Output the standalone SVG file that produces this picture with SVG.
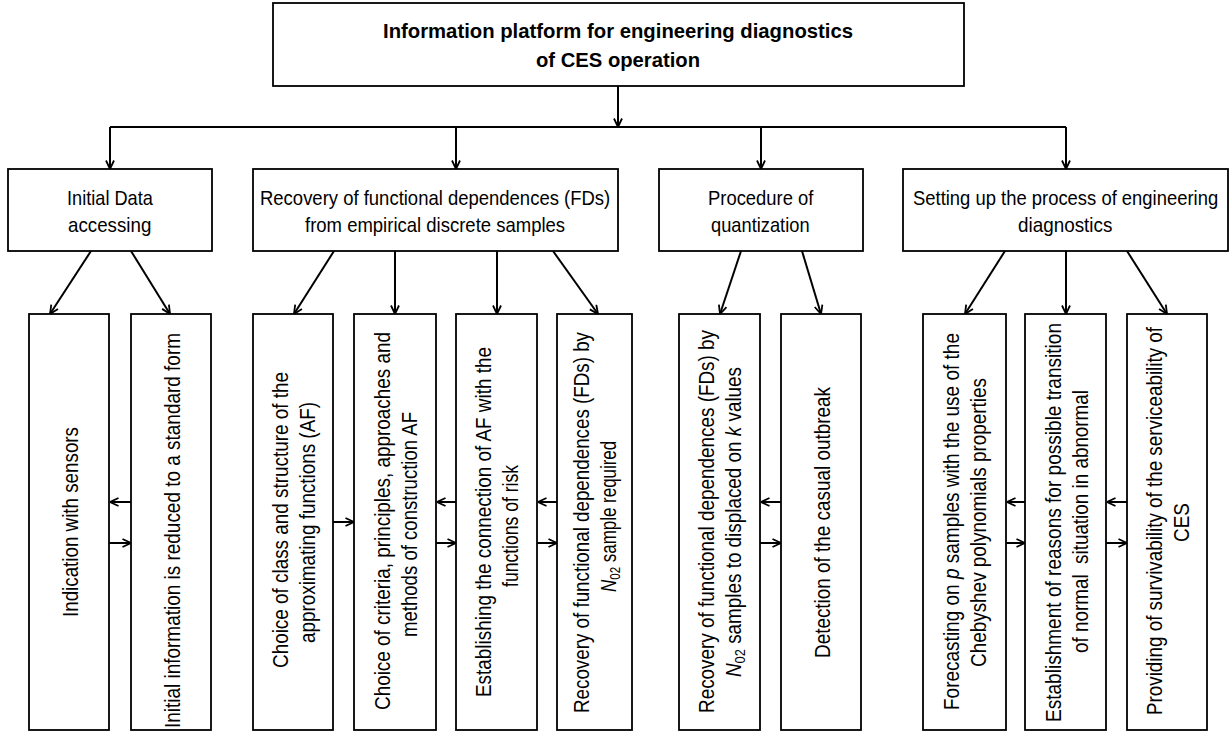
<svg xmlns="http://www.w3.org/2000/svg" width="1230" height="734" viewBox="0 0 1230 734">
<defs>
<style>
.box{fill:#fff;stroke:#000;stroke-width:1.8}
.t{font-family:"Liberation Sans",Arial,sans-serif;font-size:21px;fill:#000}
.v{font-family:"Liberation Sans",Arial,sans-serif;font-size:22px;fill:#000}
.b{font-weight:bold}
.i{font-style:italic}
.sub{font-size:15px}
.c{fill:none;stroke:#000;stroke-width:2;marker-end:url(#ah)}
.n{fill:none;stroke:#000;stroke-width:2}
</style>
<marker id="ah" viewBox="0 0 10 10" refX="9.5" refY="5" markerWidth="10" markerHeight="10" markerUnits="userSpaceOnUse" orient="auto">
<path d="M1,1 L9.5,5 L1,9" fill="none" stroke="#000" stroke-width="1.8"/>
</marker>
</defs>
<rect width="1230" height="734" fill="#fff"/>

<g id="connectors">
<path class="c" d="M618,86 V127"/>
<path class="n" d="M110,127 H1066"/>
<path class="c" d="M110,127 V169"/>
<path class="c" d="M456,127 V169"/>
<path class="c" d="M761,127 V169"/>
<path class="c" d="M1066,127 V169"/>
<path class="c" d="M91,251 L50,314"/>
<path class="c" d="M131,251 L170,314"/>
<path class="c" d="M334,251 L294,314"/>
<path class="c" d="M395,251 V314"/>
<path class="c" d="M497,251 V314"/>
<path class="c" d="M553,251 L598,314"/>
<path class="c" d="M741,251 L720,314"/>
<path class="c" d="M802,251 L821,314"/>
<path class="c" d="M1005,251 L965,314"/>
<path class="c" d="M1066,251 V314"/>
<path class="c" d="M1127,251 L1167,314"/>
<path class="c" d="M131,502 H110"/>
<path class="c" d="M109,543 H131"/>
<path class="c" d="M333,522 H354"/>
<path class="c" d="M456,502 H437"/>
<path class="c" d="M436,543 H456"/>
<path class="c" d="M557,502 H538"/>
<path class="c" d="M537,543 H557"/>
<path class="c" d="M781,502 H761"/>
<path class="c" d="M760,543 H781"/>
<path class="c" d="M1025,502 H1007"/>
<path class="c" d="M1006,543 H1025"/>
<path class="c" d="M1127,502 H1107"/>
<path class="c" d="M1106,543 H1127"/>
</g>

<g id="root">
<rect class="box" x="273" y="3" width="691" height="83"/>
<text class="t b" transform="translate(383,38) scale(0.85,1)" textLength="553" lengthAdjust="spacingAndGlyphs">Information platform for engineering diagnostics</text>
<text class="t b" transform="translate(536,67) scale(0.85,1)" textLength="193" lengthAdjust="spacingAndGlyphs">of CES operation</text>
</g>

<g id="initial-data">
<rect class="box" x="8" y="169" width="204" height="82"/>
<text class="t" transform="translate(67,205) scale(0.85,1)" textLength="101" lengthAdjust="spacingAndGlyphs">Initial Data</text>
<text class="t" transform="translate(68,232) scale(0.85,1)" textLength="98" lengthAdjust="spacingAndGlyphs">accessing</text>
</g>
<g id="recovery">
<rect class="box" x="253" y="169" width="365" height="82"/>
<text class="t" transform="translate(260,205) scale(0.85,1)" textLength="412" lengthAdjust="spacingAndGlyphs">Recovery of functional dependences (FDs)</text>
<text class="t" transform="translate(305,232) scale(0.85,1)" textLength="306" lengthAdjust="spacingAndGlyphs">from empirical discrete samples</text>
</g>
<g id="quantization">
<rect class="box" x="659" y="169" width="204" height="82"/>
<text class="t" transform="translate(708,205) scale(0.85,1)" textLength="124" lengthAdjust="spacingAndGlyphs">Procedure of</text>
<text class="t" transform="translate(711,232) scale(0.85,1)" textLength="116" lengthAdjust="spacingAndGlyphs">quantization</text>
</g>
<g id="setting-up">
<rect class="box" x="903" y="169" width="325" height="82"/>
<text class="t" transform="translate(913,205) scale(0.85,1)" textLength="359" lengthAdjust="spacingAndGlyphs">Setting up the process of engineering</text>
<text class="t" transform="translate(1018,232) scale(0.85,1)" textLength="111" lengthAdjust="spacingAndGlyphs">diagnostics</text>
</g>

<g id="indication">
<rect class="box" x="29" y="314" width="80" height="416"/>
<text class="v" transform="translate(78,617) rotate(-90)" textLength="190" lengthAdjust="spacingAndGlyphs">Indication with sensors</text>
</g>
<g id="standard-form">
<rect class="box" x="131" y="314" width="80" height="416"/>
<text class="v" transform="translate(180,728) rotate(-90)" textLength="395" lengthAdjust="spacingAndGlyphs">Initial information is reduced to a standard form</text>
</g>
<g id="choice-class">
<rect class="box" x="253" y="314" width="80" height="416"/>
<text class="v" transform="translate(288,668) rotate(-90)" textLength="296" lengthAdjust="spacingAndGlyphs">Choice of class and structure of the</text>
<text class="v" transform="translate(315,643) rotate(-90)" textLength="241" lengthAdjust="spacingAndGlyphs">approximating functions (AF)</text>
</g>
<g id="choice-criteria">
<rect class="box" x="354" y="314" width="82" height="416"/>
<text class="v" transform="translate(390,710) rotate(-90)" textLength="378" lengthAdjust="spacingAndGlyphs">Choice of criteria, principles, approaches and</text>
<text class="v" transform="translate(417,637) rotate(-90)" textLength="225" lengthAdjust="spacingAndGlyphs">methods of construction AF</text>
</g>
<g id="connection-risk">
<rect class="box" x="456" y="314" width="81" height="416"/>
<text class="v" transform="translate(491,697) rotate(-90)" textLength="350" lengthAdjust="spacingAndGlyphs">Establishing the connection of AF with the</text>
<text class="v" transform="translate(518,587) rotate(-90)" textLength="122" lengthAdjust="spacingAndGlyphs">functions of risk</text>
</g>
<g id="recovery-n02">
<rect class="box" x="557" y="314" width="75" height="416"/>
<text class="v" transform="translate(589,713) rotate(-90)" textLength="381" lengthAdjust="spacingAndGlyphs">Recovery of functional dependences (FDs) by</text>
<text class="v" transform="translate(616,592) rotate(-90) scale(0.77,1)"><tspan class="i">N</tspan><tspan class="sub" baseline-shift="-4">02</tspan> sample required</text>
</g>
<g id="recovery-k">
<rect class="box" x="679" y="314" width="81" height="416"/>
<text class="v" transform="translate(714,713) rotate(-90)" textLength="383" lengthAdjust="spacingAndGlyphs">Recovery of functional dependences (FDs) by</text>
<text class="v" transform="translate(741,677) rotate(-90)" textLength="310" lengthAdjust="spacingAndGlyphs"><tspan class="i">N</tspan><tspan class="sub" baseline-shift="-4">02</tspan> samples to displaced on <tspan class="i">k</tspan> values</text>
</g>
<g id="detection">
<rect class="box" x="781" y="314" width="80" height="416"/>
<text class="v" transform="translate(830,658) rotate(-90)" textLength="271" lengthAdjust="spacingAndGlyphs">Detection of the casual outbreak</text>
</g>
<g id="forecasting">
<rect class="box" x="923" y="314" width="83" height="416"/>
<text class="v" transform="translate(959,710) rotate(-90)" textLength="377" lengthAdjust="spacingAndGlyphs">Forecasting on <tspan class="i">p</tspan> samples with the use of the</text>
<text class="v" transform="translate(986,667) rotate(-90)" textLength="289" lengthAdjust="spacingAndGlyphs">Chebyshev polynomials properties</text>
</g>
<g id="reasons">
<rect class="box" x="1025" y="314" width="81" height="416"/>
<text class="v" transform="translate(1061,722) rotate(-90)" textLength="399" lengthAdjust="spacingAndGlyphs">Establishment of reasons for possible transition</text>
<text class="v" transform="translate(1088,653) rotate(-90)" textLength="263" lengthAdjust="spacingAndGlyphs" xml:space="preserve">of normal  situation in abnormal</text>
</g>
<g id="survivability">
<rect class="box" x="1127" y="314" width="80" height="416"/>
<text class="v" transform="translate(1162,715) rotate(-90)" textLength="388" lengthAdjust="spacingAndGlyphs">Providing of survivability of the serviceability of</text>
<text class="v" transform="translate(1189,542) rotate(-90)" textLength="39" lengthAdjust="spacingAndGlyphs">CES</text>
</g>
</svg>
